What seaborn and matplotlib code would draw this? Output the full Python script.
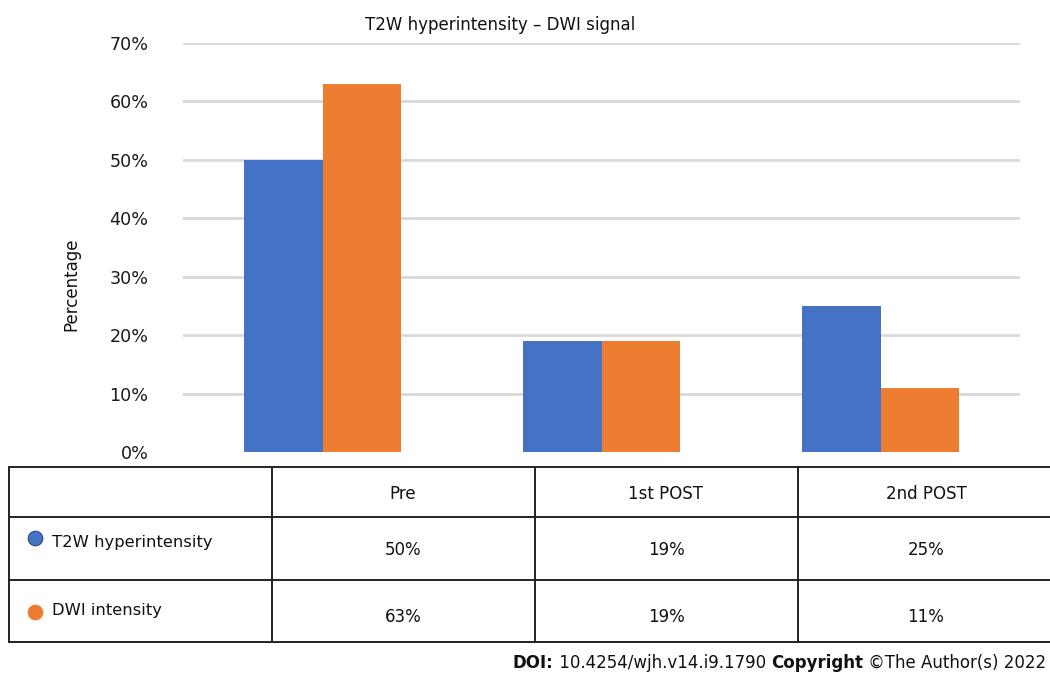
import matplotlib
matplotlib.use("Agg")
import matplotlib.pyplot as plt
import seaborn as sns
import pandas as pd
from matplotlib.lines import Line2D

# ---- data ----
categories = ["Pre", "1st POST", "2nd POST"]
series_names = ["T2W hyperintensity", "DWI intensity"]
t2w_values = [50, 19, 25]
dwi_values = [63, 19, 11]
row_labels = ["T2W hyperintensity", "DWI intensity"]
yticks = [0, 10, 20, 30, 40, 50, 60, 70]
ytick_labels = ["0%", "10%", "20%", "30%", "40%", "50%", "60%", "70%"]
colors = ["#4472C4", "#ED7D31"]
title = "T2W hyperintensity \u2013 DWI signal"

df = pd.DataFrame({
    "Phase": categories * 2,
    "Series": [series_names[0]] * 3 + [series_names[1]] * 3,
    "Value": t2w_values + dwi_values,
})

sns.set_style("white")
plt.rcParams["font.family"] = ["DejaVu Sans"]

W, H = 1050, 675
fig = plt.figure(figsize=(W / 100, H / 100), dpi=100)
ax = fig.add_axes([183 / W, 1 - 452 / H, (1020 - 183) / W, (452 - 43) / H])

sns.barplot(data=df, x="Phase", y="Value", hue="Series", order=categories,
            hue_order=series_names, palette=colors, width=0.566,
            saturation=1, ax=ax, legend=False, edgecolor="none", linewidth=0)

ax.set_ylim(0, 70)
ax.set_xlim(-0.5, 2.5)
ax.set_yticks(yticks)
ax.set_yticklabels(ytick_labels, fontsize=12.6, color="#1a1a1a")
ax.tick_params(axis="y", length=0, pad=25)
ax.set_xticks([])
ax.set_xlabel("")
ax.set_ylabel("")
for s in ax.spines.values():
    s.set_visible(False)
for y in yticks[1:]:
    ax.axhline(y, color="#d9d9d9", lw=2, zorder=0)
ax.set_axisbelow(True)

fig.text(71 / W, 1 - 284 / H, "Percentage", rotation=90, ha="center", va="center",
         fontsize=12, color="#111111")
fig.text(500 / W, 1 - 25 / H, title, ha="center", va="center", fontsize=12, color="#111111")

# ---- table overlay ----
tab = fig.add_axes([0, 0, 1, 1], facecolor="none")
tab.set_xlim(0, W)
tab.set_ylim(H, 0)
tab.axis("off")
lc = "#222222"
lw = 1.4
xs = [9, 272, 535, 798]
ys = [467, 517, 580, 642]
for y in ys:
    tab.add_line(Line2D([9, W], [y, y], color=lc, lw=lw))
for x in xs:
    tab.add_line(Line2D([x, x], [467, 642], color=lc, lw=lw))

col_centers = [403, 666, 926]
for c, cx in zip(categories, col_centers):
    tab.text(cx, 494, c, ha="center", va="center", fontsize=12, color="#111111")
row_vals = [t2w_values, dwi_values]
row_y = [550, 617]
for vals, ry in zip(row_vals, row_y):
    for v, cx in zip(vals, col_centers):
        tab.text(cx, ry, f"{v}%", ha="center", va="center", fontsize=12, color="#111111")
label_y = [543, 611]
marker_y = [538, 612]
for lab, ly, my, col in zip(row_labels, label_y, marker_y, colors):
    tab.text(52, ly, lab, ha="left", va="center", fontsize=11.8, color="#111111")
    tab.scatter([35], [my], s=110, color=col, edgecolor="#2a4a8a" if col == colors[0] else col,
                linewidth=0.8, zorder=3)

# ---- DOI footer ----
fig.canvas.draw()
renderer = fig.canvas.get_renderer()
pieces = [("DOI:", "bold"), (" 10.4254/wjh.v14.i9.1790 ", "normal"),
          ("Copyright", "bold"), (" \u00a9The Author(s) 2022", "normal")]
x = 513
for txt, wgt in pieces:
    t = tab.text(x, 663, txt, ha="left", va="center", fontsize=12, fontweight=wgt, color="#111111")
    bb = t.get_window_extent(renderer=renderer)
    x += bb.width

fig.savefig("out.png", dpi=100)
